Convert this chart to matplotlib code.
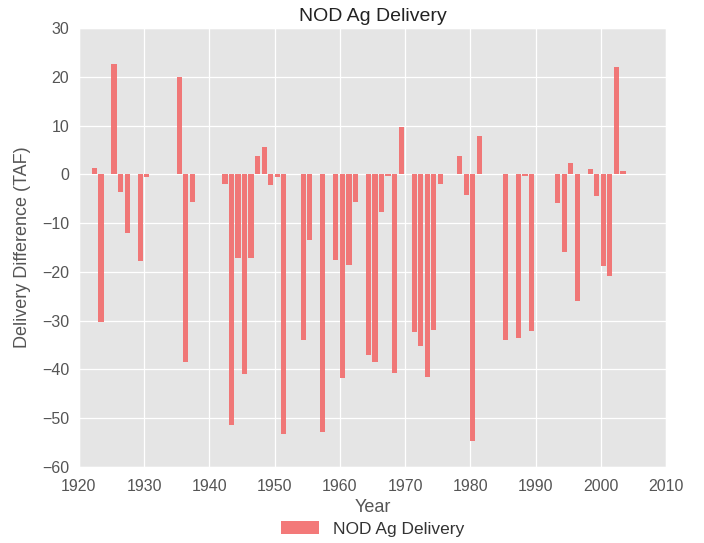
import matplotlib
matplotlib.use('Agg')
import matplotlib.pyplot as plt

plt.style.use('ggplot')
plt.rcParams['font.family'] = ['Liberation Sans', 'DejaVu Sans']

# values (TAF)
years = [1922, 1923, 1925, 1926, 1927, 1929, 1930, 1935, 1936, 1937,
         1942, 1943, 1944, 1945, 1946, 1947, 1948, 1949, 1950, 1951,
         1954, 1955, 1957, 1959, 1960, 1961, 1962, 1964, 1965, 1966,
         1967, 1968, 1969, 1971, 1972, 1973, 1974, 1975, 1978, 1979,
         1980, 1981, 1985, 1987, 1988, 1989, 1993, 1994, 1995, 1996,
         1998, 1999, 2000, 2001, 2002, 2003]
diff = [1.3, -30.3, 22.7, -3.6, -12.0, -17.8, -0.5, 19.9, -38.5, -5.6,
        -1.9, -51.3, -17.1, -41.0, -17.1, 3.7, 5.7, -2.1, -0.5, -53.3,
        -34.0, -13.5, -52.8, -17.6, -41.7, -18.5, -5.6, -37.0, -38.5, -7.6,
        -0.3, -40.8, 9.8, -32.4, -35.2, -41.5, -31.8, -1.9, 3.8, -4.2,
        -54.6, 7.8, -34.0, -33.6, -0.3, -32.2, -5.9, -16.0, 2.4, -26.0,
        1.2, -4.5, -18.8, -20.8, 22.1, 0.8]

fig = plt.figure(figsize=(7.04, 5.43), dpi=100)
fig.patch.set_facecolor('white')
ax = fig.add_axes([0.112, 0.140, 0.834, 0.808])

ax.bar(years, diff, width=0.8, align='edge', color='#F26B6B', alpha=0.9,
       edgecolor='none', label='NOD Ag Delivery')

ax.set_xlim(1920, 2010)
ax.set_ylim(-60, 30)
ax.set_xticks(range(1920, 2011, 10))
ax.set_yticks(range(-60, 31, 10))
ax.tick_params(axis='both', labelsize=11.5, colors='#555555', length=0)
ax.tick_params(axis='x', pad=9)
ax.tick_params(axis='y', pad=7)
ax.grid(True, color='white', linewidth=0.9)
ax.set_axisbelow(True)

ax.set_title('NOD Ag Delivery', fontsize=14, color='#222222', pad=5)
ax.set_xlabel('Year', fontsize=13, color='#555555', labelpad=3)
ax.set_ylabel('Delivery Difference (TAF)', fontsize=13, color='#555555', labelpad=8)

leg = ax.legend(loc='upper center', bbox_to_anchor=(0.5, -0.088), frameon=False,
                fontsize=12.5, handlelength=2.2, handleheight=0.8)
for t in leg.get_texts():
    t.set_color('#333333')

fig.savefig('out.png', dpi=100)
